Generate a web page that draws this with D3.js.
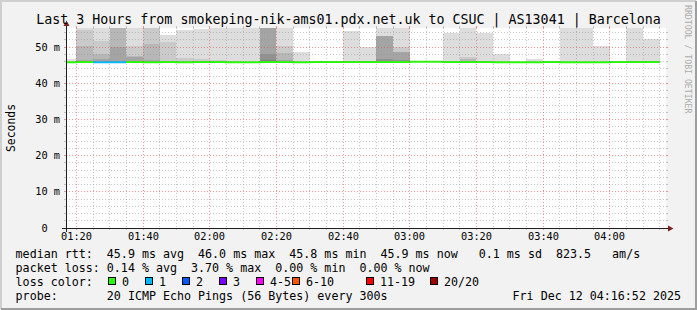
<!DOCTYPE html>
<html>
<head>
<meta charset="utf-8">
<script src="https://cdn.jsdelivr.net/npm/d3@7"></script>
<style>
  html, body { margin: 0; padding: 0; background: #f2f2f2; }
  svg { display: block; }
  text { font-family: "DejaVu Sans Mono", monospace; white-space: pre; }
</style>
</head>
<body>
<div id="chart"></div>
<script>
// 5 minute steps shown in the graph (start of each step)
var binStarts = ["01:15","01:20","01:25","01:30","01:35","01:40","01:45","01:50","01:55",
                 "02:00","02:05","02:10","02:15","02:20","02:25","02:30","02:35","02:40",
                 "02:45","02:50","02:55","03:00","03:05","03:10","03:15","03:20","03:25",
                 "03:30","03:35","03:40","03:45","03:50","03:55","04:00","04:05","04:10"];

// median rtt per step, ms
var medianRtt = [45.8, 45.9, 45.8, 45.8, 45.9, 45.8, 45.9, 45.8, 45.9,
                 45.9, 45.8, 45.8, 45.9, 45.9, 45.8, 45.9, 45.9, 45.9,
                 45.9, 45.9, 45.9, 46.0, 46.0, 45.9, 45.9, 45.9, 45.8,
                 45.8, 45.8, 45.9, 45.8, 45.8, 45.8, 45.9, 45.9, 45.9];

// lost pings (of 20) per step
var lossCount = [0, 0, 1, 1, 0, 0, 0, 0, 0,
                 0, 0, 0, 0, 0, 0, 0, 0, 0,
                 0, 0, 0, 0, 0, 0, 0, 0, 0,
                 0, 0, 0, 0, 0, 0, 0, 0, 0];

// smoke: upper ping of each band pair (outer band first), ms
var smokeTops = [
  [46.7],
  [57, 54.7, 50.4, 46.5, 46.1],
  [57, 51.8, 48.1, 46.7, 46.2],
  [57, 57, 57, 50.1, 46.3],
  [57, 50.2, 47.6, 47.4],
  [57, 57, 50.9, 46.5],
  [53.5, 51.4, 46.3],
  [54.7, 46.9, 46.3],
  [55.0, 46.6, 46.3],
  [57, 46.5],
  [57, 46.2],
  [57],
  [57, 57, 57, 57, 48.1, 46.5],
  [57, 50.2, 48.3, 46.5],
  [48.8],
  [46.1],
  [46.1],
  [54.5],
  [50.1, 46.2],
  [57, 53.1, 53.1, 53.1, 46.6],
  [57, 50.1, 48.8, 48.8, 46.4],
  [],
  [],
  [53.9],
  [57, 47.2, 46.6],
  [53.9],
  [48.0],
  [],
  [46.6],
  [],
  [57],
  [57],
  [50.3],
  [],
  [57],
  [52.3]
];

var yTicks = [0, 10, 20, 30, 40, 50];
var yTickLabels = ["0  ", "10 m", "20 m", "30 m", "40 m", "50 m"];
var xTicks = ["01:20","01:40","02:00","02:20","02:40","03:00","03:20","03:40","04:00"];

var lossLevels = ["0", "1", "2", "3", "4-5", "6-10", "11-19", "20/20"];
var lossColors = ["#26ff00", "#00b8ff", "#0059ff", "#7e00ff", "#ff00ff", "#ff5500", "#ff0000", "#a10000"];

var rttStats = [45.9, 46.0, 45.8, 45.9];   // avg max min now
var rttSd = 0.1;
var rttAms = 823.5;
var lossStats = [0.14, 3.70, 0.00, 0.00];  // avg max min now

var title = "Last 3 Hours from smokeping-nik-ams01.pdx.net.uk to CSUC | AS13041 | Barcelona";
var probeText = "20 ICMP Echo Pings (56 Bytes) every 300s";
var stamp = "Fri Dec 12 04:16:52 2025";

function draw() {
    var width = 697, height = 310;
    var pLeft = 66, pRight = 666, pTop = 28, pBottom = 228;

    function t(hm, s) {
        var p = hm.split(":");
        return new Date(Date.UTC(2025, 11, 12, +p[0], +p[1], s || 0));
    }

    var x = d3.scaleUtc()
        .domain([t("01:16", 52), t("04:16", 52)])
        .range([pLeft, pRight]);

    var y = d3.scaleLinear()
        .domain([0, 55.3])
        .range([pBottom, pTop]);

    var svg = d3.select("#chart").append("svg")
        .attr("width", width)
        .attr("height", height);

    // background + 3d frame
    svg.append("rect").attr("width", width).attr("height", height).attr("fill", "#f2f2f2");
    svg.append("path").attr("d", "M1,309V1H696").attr("fill", "none")
        .attr("stroke", "#cfcfcf").attr("stroke-width", 2);
    svg.append("path").attr("d", "M1,309H696V1").attr("fill", "none")
        .attr("stroke", "#9e9e9e").attr("stroke-width", 2);

    svg.append("rect")
        .attr("x", pLeft).attr("y", pTop)
        .attr("width", pRight - pLeft).attr("height", pBottom - pTop)
        .attr("fill", "#ffffff");

    svg.append("clipPath").attr("id", "plotclip")
        .append("rect")
        .attr("x", pLeft).attr("y", pTop)
        .attr("width", pRight - pLeft).attr("height", pBottom - pTop);

    var plot = svg.append("g").attr("clip-path", "url(#plotclip)");

    function binStart(i) { return t(binStarts[i]); }
    function binEnd(i) { return d3.utcMinute.offset(t(binStarts[i]), 5); }

    // smoke, drawn the smokeping way: outer band light, inner bands darker
    function bandGray(k) {
        var g = Math.floor(190 / 10 * (10 - k)) + 50;
        return d3.rgb(g, g, g).formatHex();
    }

    smokeTops.forEach(function(tops, i) {
        var x0 = Math.round(x(binStart(i))), x1 = Math.round(x(binEnd(i)));
        tops.forEach(function(v, k) {
            var y0 = Math.round(y(v));
            var y1 = Math.round(y(medianRtt[i]));
            if (y1 <= y0) return;
            plot.append("rect")
                .attr("x", x0).attr("y", y0)
                .attr("width", x1 - x0).attr("height", y1 - y0)
                .attr("fill", bandGray(k + 1))
                .attr("shape-rendering", "crispEdges");
        });
    });

    // grid
    var grid = svg.append("g").attr("shape-rendering", "crispEdges");
    var minorCol = "rgba(143,143,143,0.5)";
    var majorCol = "rgba(222,79,79,0.6)";

    function vline(px, col) {
        grid.append("line").attr("x1", px).attr("x2", px)
            .attr("y1", pTop).attr("y2", pBottom)
            .attr("stroke", col).attr("stroke-dasharray", "1,2");
        grid.append("line").attr("x1", px).attr("x2", px)
            .attr("y1", pBottom).attr("y2", pBottom + 2).attr("stroke", col);
        grid.append("line").attr("x1", px).attr("x2", px)
            .attr("y1", pTop - 2).attr("y2", pTop).attr("stroke", col);
    }
    function hline(py, col) {
        grid.append("line").attr("x1", pLeft).attr("x2", pRight)
            .attr("y1", py).attr("y2", py)
            .attr("stroke", col).attr("stroke-dasharray", "1,2");
        grid.append("line").attr("x1", pLeft - 2).attr("x2", pLeft)
            .attr("y1", py).attr("y2", py).attr("stroke", col);
        grid.append("line").attr("x1", pRight).attr("x2", pRight + 2)
            .attr("y1", py).attr("y2", py).attr("stroke", col);
    }

    var majorSet = xTicks.map(function(d) { return t(d).getTime(); });
    d3.utcMinute.every(5).range(x.domain()[0], x.domain()[1]).forEach(function(d) {
        var px = Math.floor(x(d)) + 0.5;
        vline(px, majorSet.indexOf(d.getTime()) >= 0 ? majorCol : minorCol);
    });

    d3.range(2, y.domain()[1], 2).forEach(function(v) {
        var py = Math.floor(y(v)) + 0.5;
        hline(py, v % 10 === 0 ? majorCol : minorCol);
    });

    // median line coloured by loss
    function lossIndex(n) {
        if (n <= 3) return n;
        if (n <= 5) return 4;
        if (n <= 10) return 5;
        if (n < 20) return 6;
        return 7;
    }

    var runs = [];
    medianRtt.forEach(function(v, i) {
        var c = lossIndex(lossCount[i]);
        var last = runs[runs.length - 1];
        if (!last || last.c !== c) { last = { c: c, pts: [] }; runs.push(last); }
        last.pts.push([binStart(i), v], [binEnd(i), v]);
    });

    var line = d3.line()
        .x(function(d) { return Math.round(x(d[0])); })
        .y(function(d) { return y(d[1]); });

    runs.forEach(function(r) {
        plot.append("path")
            .attr("d", line(r.pts))
            .attr("fill", "none")
            .attr("stroke", lossColors[r.c])
            .attr("stroke-width", 2);
    });

    // axes
    var axisCol = "#1f1f1f", arrowCol = "#801f1f";
    svg.append("line").attr("x1", pLeft - 4).attr("x2", pRight + 4)
        .attr("y1", pBottom + 0.5).attr("y2", pBottom + 0.5)
        .attr("stroke", axisCol).attr("shape-rendering", "crispEdges");
    svg.append("line").attr("x1", pLeft + 0.5).attr("x2", pLeft + 0.5)
        .attr("y1", pBottom + 4).attr("y2", pTop - 4)
        .attr("stroke", axisCol).attr("shape-rendering", "crispEdges");
    svg.append("path")
        .attr("d", "M" + (pRight + 2) + "," + (pBottom - 2.5) + "L" + (pRight + 2) + "," + (pBottom + 3.5) +
                   "L" + (pRight + 7.5) + "," + (pBottom + 0.5) + "Z")
        .attr("fill", arrowCol);
    svg.append("path")
        .attr("d", "M" + (pLeft - 2.5) + "," + (pTop - 2) + "L" + (pLeft + 3.5) + "," + (pTop - 2) +
                   "L" + (pLeft + 0.5) + "," + (pTop - 7.5) + "Z")
        .attr("fill", arrowCol);

    // axis labels
    var axisFont = "10.3px";
    svg.append("g").selectAll("text")
        .data(xTicks)
        .join("text")
        .attr("x", function(d) { return Math.floor(x(t(d))) + 0.5; })
        .attr("y", 240)
        .attr("text-anchor", "middle")
        .attr("font-size", axisFont)
        .attr("fill", "#000")
        .text(function(d) { return d; });

    svg.append("g").selectAll("text")
        .data(yTicks)
        .join("text")
        .attr("x", 60)
        .attr("y", function(d) { return Math.floor(y(d)) + 4; })
        .attr("text-anchor", "end")
        .attr("font-size", axisFont)
        .attr("fill", "#000")
        .text(function(d, i) { return yTickLabels[i]; });

    // title, unit, watermark
    svg.append("text")
        .attr("x", width / 2).attr("y", 24)
        .attr("text-anchor", "middle")
        .attr("font-size", "13.3px")
        .attr("fill", "#000")
        .text(title);

    svg.append("text")
        .attr("transform", "translate(15," + ((pTop + pBottom) / 2) + ") rotate(-90)")
        .attr("text-anchor", "middle")
        .attr("font-size", "11.4px")
        .attr("fill", "#000")
        .text("Seconds");

    svg.append("text")
        .attr("transform", "translate(684.5,5) rotate(90)")
        .attr("font-size", "8.2px")
        .attr("fill", "#ababab")
        .text("RRDTOOL / TOBI OETIKER");

    // legend
    var f1 = d3.format(".1f"), f2 = d3.format(".2f"), f41 = d3.format("4.1f");
    var legendFont = "11.67px";
    var lines = [
        "median rtt:  " + f1(rttStats[0]) + " ms avg  " + f1(rttStats[1]) + " ms max  " +
            f1(rttStats[2]) + " ms min  " + f1(rttStats[3]) + " ms now  " + f41(rttSd) +
            " ms sd  " + f1(rttAms) + "   am/s",
        "packet loss: " + f2(lossStats[0]) + " % avg  " + f2(lossStats[1]) + " % max  " +
            f2(lossStats[2]) + " % min  " + f2(lossStats[3]) + " % now",
        "loss color:",
        "probe:       " + probeText
    ];
    var baselines = [258, 272, 286, 300];

    lines.forEach(function(s, i) {
        svg.append("text")
            .attr("x", 15.6).attr("y", baselines[i])
            .attr("font-size", legendFont)
            .attr("fill", "#000")
            .text(s);
    });

    svg.append("text")
        .attr("x", 681).attr("y", 300)
        .attr("text-anchor", "end")
        .attr("font-size", legendFont)
        .attr("fill", "#000")
        .text(stamp);

    var slotX = [108, 145, 182, 219, 256, 292, 366, 430];
    lossLevels.forEach(function(lbl, i) {
        svg.append("rect")
            .attr("x", slotX[i] + 0.5).attr("y", 277.5)
            .attr("width", 7).attr("height", 7)
            .attr("fill", lossColors[i])
            .attr("stroke", "#000")
            .attr("shape-rendering", "crispEdges");
        svg.append("text")
            .attr("x", slotX[i] + 14).attr("y", 286)
            .attr("font-size", legendFont)
            .attr("fill", "#000")
            .text(lbl);
    });
}

draw();
</script>
</body>
</html>
